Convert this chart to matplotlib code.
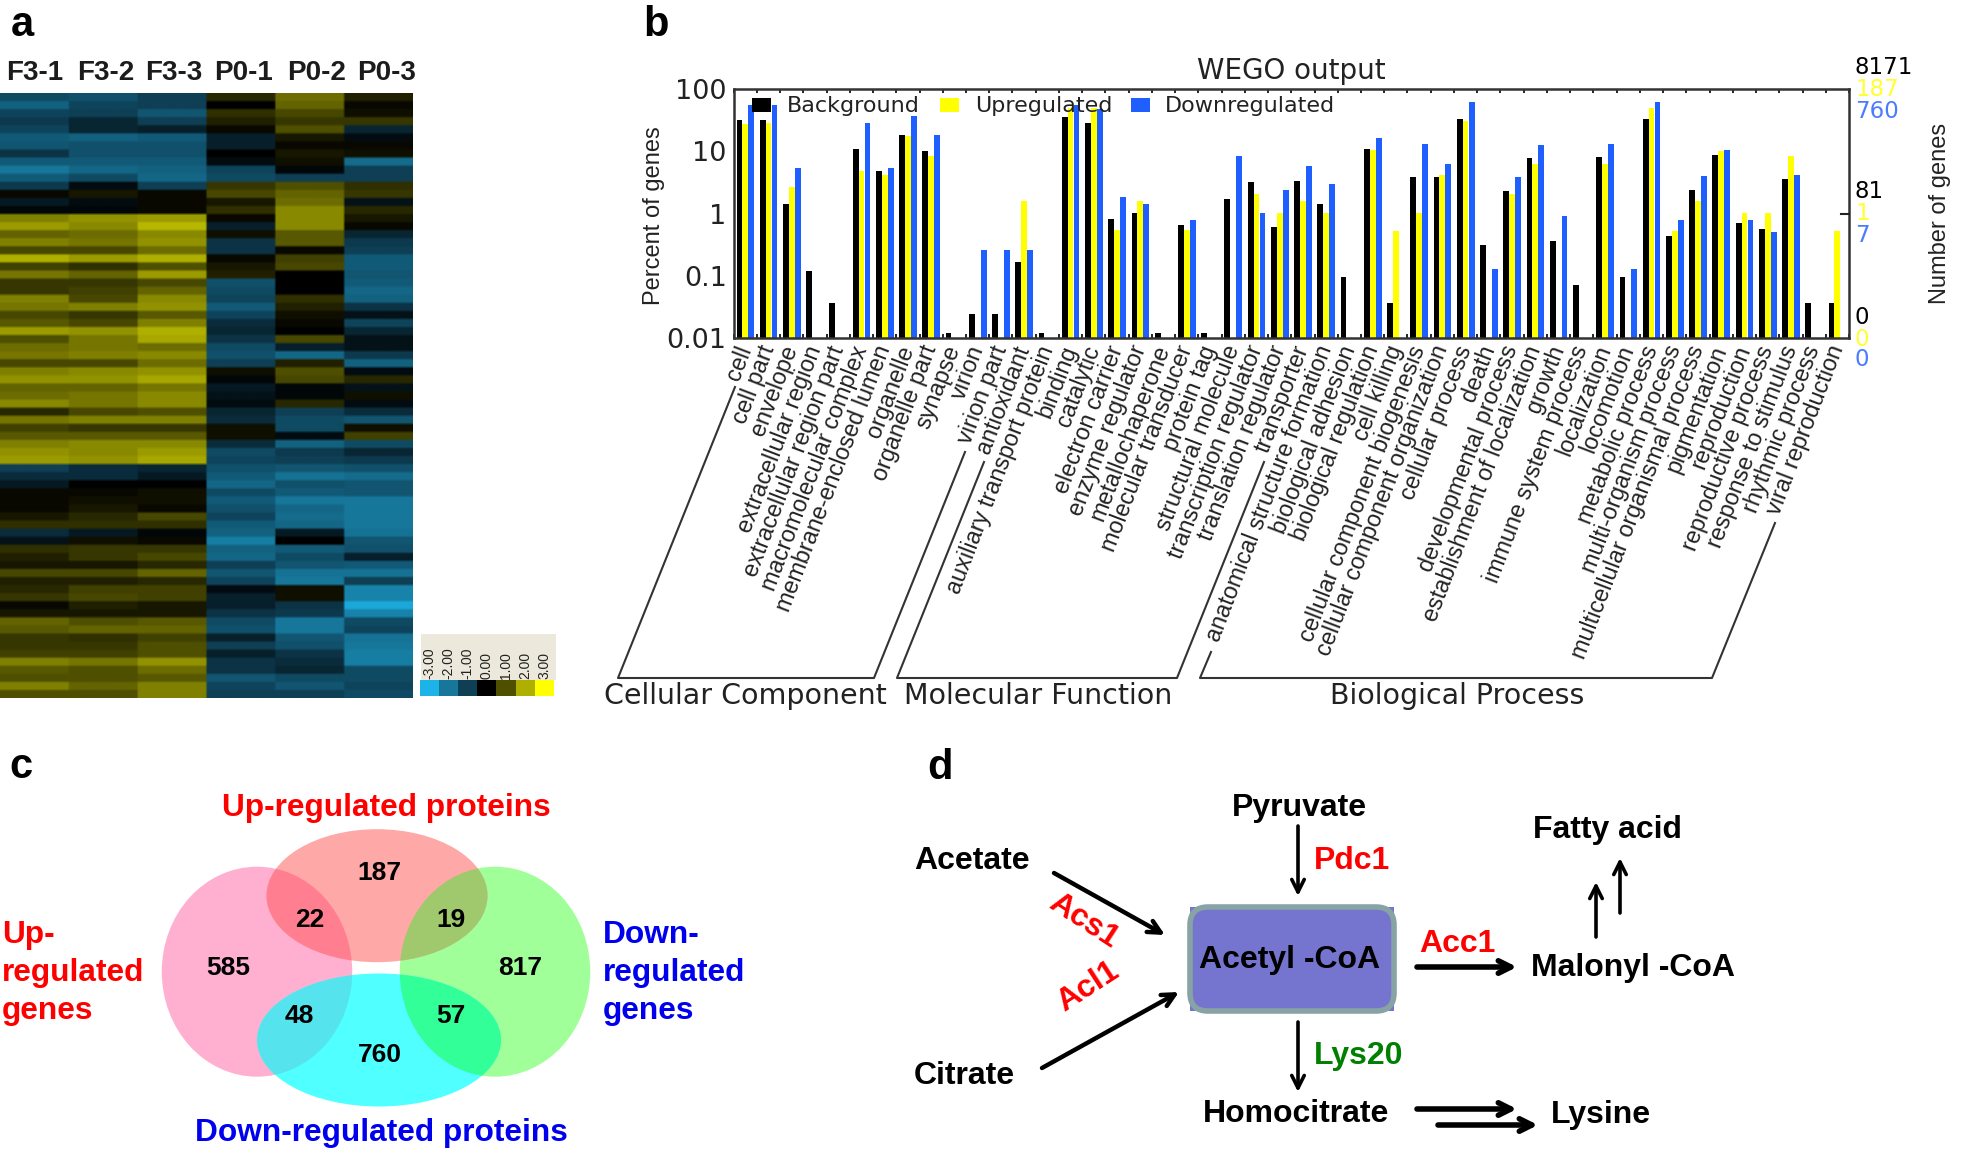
import numpy as np
import matplotlib
matplotlib.use("Agg")
import matplotlib.pyplot as plt
from matplotlib.colors import LinearSegmentedColormap
from matplotlib.patches import Ellipse, Rectangle, FancyBboxPatch

W, H = 1961, 1153

# ---------- panel a ----------
heat_cols = ["F3-1", "F3-2", "F3-3", "P0-1", "P0-2", "P0-3"]
heat_rows = [
 [-1.2,-1.3,-1.0, 0.5, 1.3, 0.4],[-1.6,-1.1,-1.0, 0.0, 1.2, 0.1],[-1.1,-1.0,-1.4, 0.6, 0.9, 0.2],
 [-0.9,-0.6,-1.0, 0.4, 0.7, 0.7],[-1.1,-0.6,-0.5, 0.1, 1.0,-0.6],[-1.5,-1.6,-1.5,-0.5, 0.3,-0.2],
 [-1.4,-1.3,-1.3,-0.5, 0.1, 0.1],[-0.8,-1.3,-1.3, 0.0, 0.3, 0.2],[-1.5,-1.5,-1.5,-0.2, 0.2,-1.8],
 [-2.0,-1.7,-1.6,-1.1,-0.1,-1.0],[-1.5,-1.2,-1.7,-1.2,-1.0,-1.0],[-0.9,-0.2,-1.0, 0.7, 1.0, 0.6],
 [ 0.1, 0.3, 0.1, 0.9, 1.2, 0.7],[-0.4,-0.2, 0.1, 0.3, 1.3,-0.3],[-0.1,-0.1, 0.1, 0.6, 1.6, 0.5],
 [ 1.5, 1.7, 1.8, 0.1, 1.6, 0.3],[ 1.8, 1.6, 2.1,-0.5, 1.6, 0.1],[ 1.2, 1.3, 1.6, 0.2, 1.1,-0.6],
 [ 1.5, 1.4, 1.7,-0.8, 1.1,-0.9],[ 0.9, 0.9, 1.3,-0.8, 0.1,-1.0],[ 2.0, 1.8, 2.0, 0.1, 0.8,-1.5],
 [ 0.8, 0.6, 1.0, 0.3, 0.9,-1.5],[ 1.4, 1.2, 1.8, 0.4, 0.0,-1.4],[ 0.7, 0.7, 0.9,-1.3, 0.0,-1.5],
 [ 0.7, 0.8, 1.2,-1.2, 0.0,-1.7],[ 1.5, 0.9, 1.6,-1.1, 0.6,-1.6],[ 1.4, 1.5, 1.7,-1.5, 0.4,-0.8],
 [ 0.9, 0.7, 1.1,-1.1, 0.2,-0.3],[ 1.1, 0.9, 1.5,-0.7, 0.1,-1.1],[ 1.8, 1.7, 2.0,-0.6, 0.0,-0.6],
 [ 1.0, 1.4, 1.9,-0.8, 0.9,-0.3],[ 1.3, 1.4, 1.3,-1.2,-0.5,-0.3],[ 1.4, 1.5, 1.6,-1.3,-1.7,-0.9],
 [ 0.9, 0.9, 1.3,-1.0, 0.4,-1.6],[ 1.5, 1.6, 1.7, 0.2, 1.0,-0.2],[ 1.7, 1.7, 1.9,-0.1, 0.9, 0.5],
 [ 1.2, 1.2, 1.4,-0.4,-0.1,-0.3],[ 1.3, 1.4, 1.6,-0.3,-0.1, 0.2],[ 1.6, 1.4, 1.6,-0.2, 0.5,-0.2],
 [ 0.5, 0.9, 1.0,-0.6,-1.0,-0.7],[ 1.4, 1.5, 1.5,-0.7,-1.2,-1.4],[ 0.8, 0.7, 0.7, 0.2,-1.2, 0.2],
 [ 1.1, 1.1, 1.1, 0.2,-0.2, 0.8],[ 1.5, 1.6, 1.6,-0.7,-1.6,-1.2],[ 1.7, 1.6, 1.8,-1.2,-0.9,-0.6],
 [ 1.8, 1.7, 1.9,-1.1,-1.0,-0.9],[-1.0,-0.7,-0.6,-1.3,-1.4,-1.3],[-0.7,-0.7,-0.4,-1.5,-1.9,-1.8],
 [-0.4, 0.0, 0.0,-1.7,-1.3,-1.4],[ 0.1, 0.1, 0.2,-1.2,-1.5,-1.4],[ 0.1, 0.2, 0.2,-1.5,-2.0,-2.0],
 [ 0.1, 0.3, 0.1,-1.3,-1.7,-2.0],[ 0.3, 0.5, 0.9,-1.1,-1.8,-2.0],[ 0.6, 0.6, 0.6,-1.5,-1.7,-2.0],
 [-0.7,-0.4,-0.1,-1.6,-0.4,-1.9],[-0.3, 0.2, 0.1,-2.1, 0.0,-1.4],[ 0.6, 0.7, 0.7,-1.6,-1.5,-1.3],
 [ 0.4, 0.7, 0.9,-1.7,-1.2,-0.5],[ 0.3, 0.3, 0.5,-1.0,-1.4,-1.5],[ 0.9, 0.9, 1.2,-1.4,-1.9,-1.9],
 [ 0.4, 0.4, 0.5,-1.1,-2.0,-1.0],[ 0.5, 0.8, 0.8,-0.2, 0.2,-2.2],[ 0.7, 0.9, 0.8,-0.5, 0.2,-2.2],
 [ 0.1, 0.4, 0.3,-0.5,-0.8,-2.8],[ 0.3, 0.3, 0.3,-0.8,-0.9,-2.2],[ 1.2, 1.0, 1.1,-1.2,-2.0,-1.2],
 [ 1.1, 1.2, 1.2,-1.3,-2.0,-1.1],[ 0.7, 0.6, 0.8,-0.5,-1.4,-1.9],[ 0.7, 0.7, 1.0,-1.0,-1.3,-2.0],
 [ 0.8, 0.8, 1.0,-0.5,-0.8,-2.1],[ 1.5, 1.4, 1.7,-0.8,-0.7,-2.1],[ 1.1, 1.0, 1.3,-0.8,-0.6,-1.2],
 [ 1.0, 1.0, 1.1,-1.4,-1.2,-1.2],[ 1.5, 1.2, 1.5,-1.1,-1.4,-1.1],[ 1.0, 1.0, 1.5,-1.0,-1.0,-1.2],
]
scale_vals = [-3, -2, -1, 0, 1, 2, 3]
scale_labels = ["-3.00", "-2.00", "-1.00", "0.00", "1.00", "2.00", "3.00"]
scale_colors = ["#1CB4E8", "#16779B", "#0E3F55", "#000000", "#4F4F00", "#AFAF00", "#FFFF00"]

# ---------- panel b ----------
categories = ["cell", "cell part", "envelope", "extracellular region", "extracellular region part",
 "macromolecular complex", "membrane-enclosed lumen", "organelle", "organelle part", "synapse",
 "virion", "virion part", "antioxidant", "auxiliary transport protein", "binding", "catalytic",
 "electron carrier", "enzyme regulator", "metallochaperone", "molecular transducer", "protein tag",
 "structural molecule", "transcription regulator", "translation regulator", "transporter",
 "anatomical structure formation", "biological adhesion", "biological regulation", "cell killing",
 "cellular component biogenesis", "cellular component organization", "cellular process", "death",
 "developmental process", "establishment of localization", "growth", "immune system process",
 "localization", "locomotion", "metabolic process", "multi-organism process",
 "multicellular organismal process", "pigmentation", "reproduction", "reproductive process",
 "response to stimulus", "rhythmic process", "viral reproduction"]
background = [31.6,31.6,1.44,0.12,0.0366,10.8,4.8,18.2,10,0.012,0.024,0.024,0.166,0.012,35.8,28,0.805,1.03,
 0.012,0.645,0.012,1.73,3.2,0.6,3.3,1.44,0.095,10.8,0.0366,3.8,3.85,33,0.31,2.28,7.8,0.356,0.072,8.1,0.095,
 33,0.44,2.36,8.65,0.70,0.57,3.55,0.0366,0.0366]
upregulated = [27.9,28,2.67,0,0,4.8,4.2,17.5,8.4,0,0,0,1.57,0,49,49,0.535,1.57,
 0,0.535,0,0,2.08,1.03,1.57,1.03,0,10.5,0.52,1.03,4.2,30.9,0,2.08,6.35,0,0,6.35,0,
 49,0.52,1.57,10,1.03,1.03,8.3,0,0.52]
downregulated = [55,55,5.4,0,0,28.7,5.4,36.7,18,0,0.255,0.255,0.255,0,55,47,1.84,1.44,
 0,0.78,0,8.4,1.03,2.36,5.8,3.0,0,16.4,0,13.3,6.2,62,0.128,3.9,12.7,0.91,0,13,0.128,
 61,0.78,4.0,10.3,0.78,0.5,4.1,0,0]
y_ticks = [0.01, 0.1, 1, 10, 100]
y_tick_labels = ["0.01", "0.1", "1", "10", "100"]
right_labels = [("8171", 67, "black"), ("187", 90, "#FFFF33"), ("760", 112, "#4B7BFF"),
                ("81", 192, "black"), ("1", 214, "#FFFF33"), ("7", 236, "#4B7BFF"),
                ("0", 317, "black"), ("0", 339, "#FFFF33"), ("0", 360, "#4B7BFF")]

# ---------- panel c ----------
venn_numbers = [("187", 379, 872), ("22", 310, 919), ("19", 451, 919), ("585", 228, 967),
                ("817", 520, 967), ("48", 299, 1015), ("57", 451, 1015), ("760", 380, 1054)]

# ---------- figure ----------
plt.rcParams["font.family"] = ["Liberation Sans", "DejaVu Sans"]
fig = plt.figure(figsize=(W / 100, H / 100), dpi=100, facecolor="white")

def px_axes(x0, y0, x1, y1, **kw):
    return fig.add_axes([x0 / W, 1 - y1 / H, (x1 - x0) / W, (y1 - y0) / H], **kw)

# heatmap
cmap = LinearSegmentedColormap.from_list("gby", [((v + 3) / 6, c) for v, c in zip(scale_vals, scale_colors)])
axh = px_axes(0, 93, 413, 698)
axh.imshow(np.repeat(np.repeat(np.array(heat_rows), 30, axis=1), 3, axis=0), cmap=cmap, vmin=-3, vmax=3,
           aspect="auto", interpolation="bilinear")
axh.axis("off")

# overlay in pixel coordinates
ov = fig.add_axes([0, 0, 1, 1], zorder=5)
ov.set_xlim(0, W)
ov.set_ylim(H, 0)
ov.axis("off")
ov.patch.set_alpha(0)

def T(x, y, s, size, color="black", bold=True, ha="center", va="center", rot=0, family=None, **kw):
    return ov.text(x, y, s, fontsize=size, color=color, fontweight="bold" if bold else "normal",
                   ha=ha, va=va, rotation=rot, family=family or ["Liberation Sans"], **kw)

for s, x, y, in [("a", 22, 25), ("b", 656, 25), ("c", 21, 767), ("d", 940, 768)]:
    T(x, y, s, 30)

for s, x in zip(heat_cols, [35, 106, 174, 243, 317, 387]):
    T(x, 73, s, 20, color="#1c1c1c")

# scale
ov.add_patch(Rectangle((421, 634), 135, 46, fc="#ECE9DC", ec="none"))
for i, (c, s) in enumerate(zip(scale_colors, scale_labels)):
    x = 420 + i * 19.1
    ov.add_patch(Rectangle((x, 680), 19.1, 16, fc=c, ec="none"))
    T(x + 9.5, 679, s, 10, bold=False, va="bottom", rot=90, color="#222222")

# bars
axb = px_axes(733.6, 89, 1849, 338)
axb.set_yscale("log")
xs = np.arange(len(categories)) + 0.5
for vals, off, col in [(background, -0.25, "black"), (upregulated, 0.0, "#FFFF00"), (downregulated, 0.26, "#1F5FFF")]:
    v = np.array(vals, float)
    m = v > 0
    axb.bar(xs[m] + off, v[m], width=0.25, color=col, log=True)
axb.set_xlim(0, len(categories))
axb.set_ylim(0.01, 100)
axb.set_yticks(y_ticks, labels=y_tick_labels, family="DejaVu Sans", fontsize=19.5)
axb.minorticks_off()
axb.tick_params(axis="y", length=0, pad=5, colors="#222222")
axb.set_xticks(np.arange(len(categories) + 1), labels=[])
axb.set_xticks(xs, labels=categories, minor=True, rotation=69, ha="right", va="center",
               rotation_mode="anchor", fontsize=16.8, color="#222222")
axb.tick_params(axis="x", which="major", direction="in", top=True, bottom=True, length=3, width=1.2)
axb.tick_params(axis="x", which="minor", length=0, pad=6)
for sp in axb.spines.values():
    sp.set_linewidth(1.8)
    sp.set_color("#333333")
axb.set_title("WEGO output", family="DejaVu Sans", fontsize=20, color="#222222", pad=7)

T(654, 216, "Percent of genes", 17, bold=False, rot=90, color="#222222")
T(1940, 213, "Number of genes", 17, bold=False, rot=90, color="#222222")
ov.plot([1849, 1841], [213.5, 213.5], color="#222222", lw=1.5)
for s, y, c in right_labels:
    T(1855, y, s, 16.5, color=c, bold=False, ha="left", family=["DejaVu Sans"])

# legend
for x, c, s, tx in [(752, "black", "Background", 787), (940, "#FFFF00", "Upregulated", 975), (1131, "#1F5FFF", "Downregulated", 1165)]:
    ov.add_patch(Rectangle((x, 98), 19, 14, fc=c, ec="none"))
    T(tx, 106, s, 16, bold=False, ha="left", color="#222222", family=["DejaVu Sans"])

# brackets
bracket_lines = [
    [(735, 387), (618, 678), (874, 678), (965, 452)],
    [(984, 462), (897, 678), (1177, 678), (1264, 462)],
    [(1211, 652), (1200, 678), (1712, 678), (1775, 523)],
]
for pts in bracket_lines:
    p = np.array(pts)
    ov.plot(p[:, 0], p[:, 1], color="#333333", lw=1.5)
for s, x in [("Cellular Component", 745), ("Molecular Function", 1038), ("Biological Process", 1457)]:
    T(x, 696, s, 20.5, bold=False, color="#222222", family=["DejaVu Sans"])

# venn
pink = Ellipse((257, 971.7), 190.5, 210, fc="#FFB0D0", ec="none")
salmon = Ellipse((377, 895.7), 221, 133, fc="#FFA8A8", ec="none")
green = Ellipse((495, 971.7), 190.5, 210, fc="#A0FF99", ec="none")
cyan = Ellipse((379, 1040), 244, 133, fc="#50FFFF", ec="none")
for e in [pink, green, salmon, cyan]:
    ov.add_patch(e)
for a, b, c in [(pink, salmon, "#FF7F90"), (salmon, green, "#9FC96C"), (pink, cyan, "#55E4EE"), (green, cyan, "#33FF99")]:
    patch = Ellipse(a.center, a.width, a.height, fc=c, ec="none")
    ov.add_patch(patch)
    patch.set_clip_path(b)
for s, x, y in venn_numbers:
    T(x, y + 1, s, 19)
T(386, 808, "Up-regulated proteins", 22.8, color="#FF0000")
T(381, 1133, "Down-regulated proteins", 22.8, color="#0000EE")
for s, y in [("Up-", 935), ("regulated", 973), ("genes", 1011)]:
    T(2, y, s, 22.8, color="#FF0000", ha="left")
for s, y in [("Down-", 935), ("regulated", 973), ("genes", 1011)]:
    T(603, y, s, 22.8, color="#0000EE", ha="left")

# pathway
ov.add_patch(Rectangle((1190, 907), 204, 104, fc="#7575CF", ec="none", zorder=2))
ov.add_patch(FancyBboxPatch((1204, 921), 176, 76, boxstyle="round,pad=14,rounding_size=18",
                            fc="#7575CF", ec="#87A3A3", lw=4, zorder=2))
arrows = [((1054, 873), (1165, 935), 3.2), ((1042, 1068), (1179, 992), 3.2), ((1298, 826), (1298, 896), 2.6),
          ((1417, 967), (1517, 967), 4), ((1596, 937), (1596, 882), 2.6), ((1620, 913), (1620, 858), 2.6),
          ((1298, 1022), (1298, 1092), 2.6), ((1417, 1109), (1517, 1109), 4), ((1438, 1125), (1538, 1125), 4)]
for a, b, lw in arrows:
    ov.annotate("", xy=b, xytext=a, arrowprops=dict(arrowstyle="->,head_length=0.9,head_width=0.45", lw=lw,
                color="black", shrinkA=0, shrinkB=0))
for s, x, y, c, r in [("Pyruvate", 1299, 808, "black", 0), ("Pdc1", 1352, 861, "#FF0000", 0),
                      ("Acetate", 972, 861, "black", 0), ("Fatty acid", 1607, 830, "black", 0),
                      ("Acs1", 1084, 921, "#FF0000", -33), ("Acetyl -CoA", 1290, 960, "black", 0),
                      ("Acc1", 1457, 944, "#FF0000", 0), ("Malonyl -CoA", 1633, 968, "black", 0),
                      ("Acl1", 1088, 987, "#FF0000", 33), ("Citrate", 964, 1076, "black", 0),
                      ("Lys20", 1359, 1056, "#008000", 0), ("Homocitrate", 1296, 1114, "black", 0),
                      ("Lysine", 1601, 1115, "black", 0)]:
    T(x, y, s, 23, color=c, rot=r, zorder=4)

fig.savefig("out.png", dpi=100)
